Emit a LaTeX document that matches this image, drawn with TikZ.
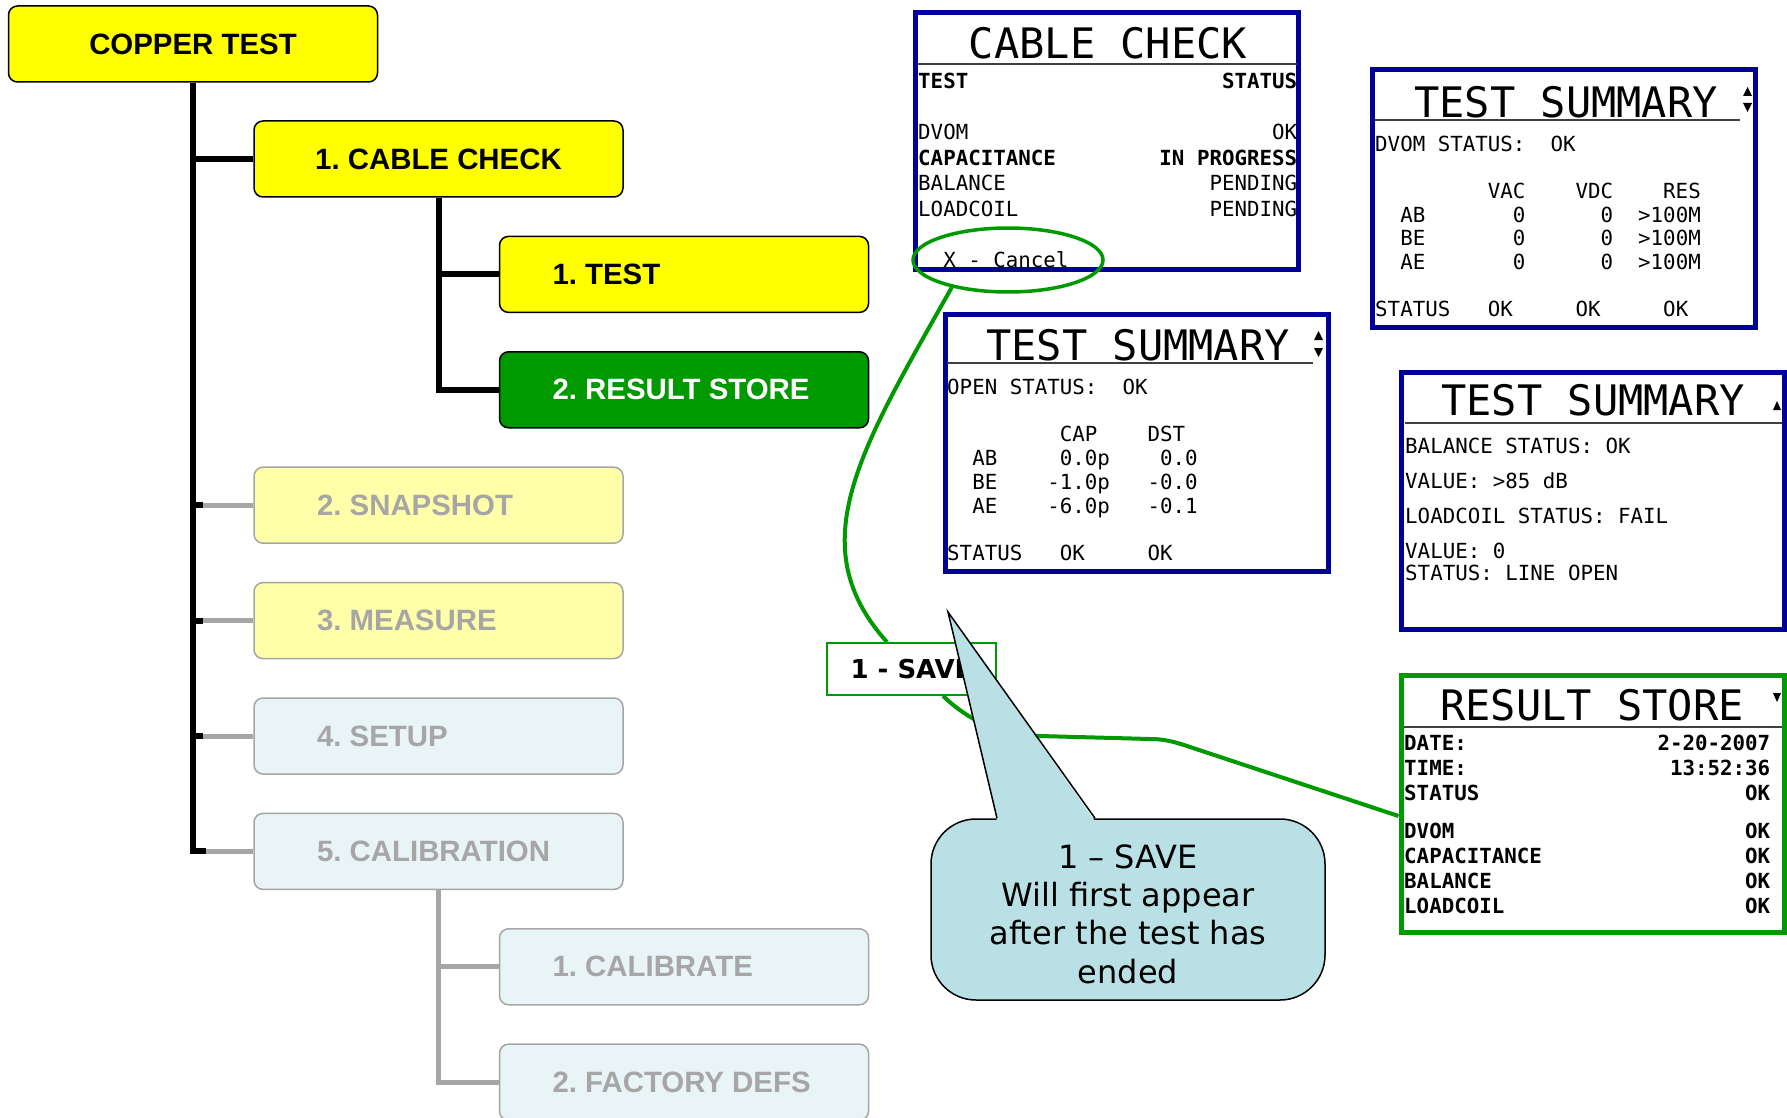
\documentclass[tikz,border=0pt]{standalone}
\usepackage{fontspec}
\setmainfont{Liberation Sans}
\setmonofont{DejaVu Sans Mono}
\newfontfamily\notefont{DejaVu Sans}
\usetikzlibrary{shapes.geometric,calc}

\definecolor{menuyel}{RGB}{255,255,0}
\definecolor{okgreen}{RGB}{0,153,0}
\definecolor{dimyel}{RGB}{255,255,170}
\definecolor{dimblue}{RGB}{232,244,246}
\definecolor{dimgray}{RGB}{166,166,166}
\definecolor{lcdblue}{RGB}{0,0,153}
\definecolor{bubble}{RGB}{185,224,228}

\tikzset{
  plainspace/.style={execute at begin node={\frenchspacing\spaceskip=0pt\xspaceskip=0pt}},
  menu/.style={rectangle, rounded corners=9pt, minimum width=369pt, minimum height=76pt,
    line width=1.5pt, font=\fontsize{29.4}{34}\selectfont\bfseries, plainspace},
  menuon/.style={menu, draw=black, fill=menuyel},
  menusel/.style={menu, draw=black, fill=okgreen, text=white},
  menudimy/.style={menu, draw=dimgray, fill=dimyel, text=dimgray},
  menudimb/.style={menu, draw=dimgray, fill=dimblue, text=dimgray},
  lft/.style={text width=#1, align=left},
  screen/.style={rectangle, draw=#1, line width=5pt, fill=white, minimum width=383pt, minimum height=257pt},
  lcdhead/.style={font=\ttfamily\fontsize{42}{42}\selectfont, inner sep=0pt, anchor=base},
  lcdtext/.style={font=\ttfamily\fontsize{20.8}{#1}\selectfont, inner sep=0pt, align=left,
    anchor=base west, plainspace},
  lcdbold/.style={lcdtext=#1, font=\ttfamily\bfseries\fontsize{20.8}{#1}\selectfont},
  lcdrule/.style={line width=1.8pt, black!75},
  wire/.style={okgreen, line width=4pt}
}

\begin{document}
\begin{tikzpicture}[x=1pt, y=-1pt]
\path[use as bounding box, fill=white] (0,0) rectangle (1787,1118);

% menu tree
\node[menuon, align=center] (copper) at (193,44) {COPPER TEST};
\node[menuon, align=center] (cable) at (438.5,159) {1. CABLE CHECK};
\node[menuon, lft=263pt] (test) at (684,274.4) {1. TEST};
\node[menusel, lft=263pt] (result) at (684,389.8) {2. RESULT STORE};
\node[menudimy, lft=243pt] (snap) at (438.5,505.2) {2. SNAPSHOT};
\node[menudimy, lft=243pt] (meas) at (438.5,620.6) {3. MEASURE};
\node[menudimb, lft=243pt] (setup) at (438.5,736) {4. SETUP};
\node[menudimb, lft=243pt] (calib) at (438.5,851.4) {5. CALIBRATION};
\node[menudimb, lft=263pt] (calibrate) at (684,966.8) {1. CALIBRATE};
\node[menudimb, lft=263pt] (factory) at (684,1082.2) {2. FACTORY DEFS};

\begin{scope}[line width=5pt, dimgray]
\foreach \n in {snap,meas,setup,calib}
  \draw (\n.west) -- (\n.west -| copper.south);
\draw (calib.south) |- (factory.west);
\draw (calibrate.west) -- (calibrate.west -| calib.south);
\end{scope}

\begin{scope}[line width=6pt]
\draw (copper.south) |- ($(calib.west -| copper.south)+(13,0)$);
\draw (cable.west) -- (cable.west -| copper.south);
\draw (cable.south) |- (result.west);
\draw (test.west) -- (test.west -| cable.south);
\foreach \n in {snap,meas,setup}
  \draw (\n.west -| copper.south) -- ++(10,0);
\end{scope}

% screens
\node[screen=lcdblue] (scrCable) at (1107,141) {};
\node[screen=lcdblue] (scrDvom) at (1564,198.5) {};
\node[screen=lcdblue] (scrOpen) at (1136.5,442.5) {};
\node[screen=lcdblue] (scrBal) at (1592.75,501) {};
\node[screen=okgreen] (scrStore) at (1592.5,803.5) {};

\node[lcdhead] (hCable) at (1108,59) {CABLE CHECK};
\node[lcdhead] (hDvom) at (1566,118) {TEST SUMMARY};
\node[lcdhead] (hOpen) at (1138,360) {TEST SUMMARY};
\node[lcdhead] (hBal) at (1593,415) {TEST SUMMARY};
\node[lcdhead] (hStore) at (1592,720) {RESULT STORE};

\draw[lcdrule] (918,64) -- (1297,64);
\draw[lcdrule] (1375,120) -- (1740,120);
\draw[lcdrule] (947,363) -- (1313,363);
\draw[lcdrule] (1405,423) -- (1782,423);
\draw[lcdrule] (1404,727) -- (1782,727);

\fill (1747.5,87) -- (1743,96) -- (1752,96) -- cycle;
\fill (1743,103) -- (1752,103) -- (1747.5,112) -- cycle;
\fill (1318.5,331) -- (1314,340) -- (1323,340) -- cycle;
\fill (1314,348) -- (1323,348) -- (1318.5,357) -- cycle;
\fill (1777,401) -- (1773,410) -- (1781,410) -- cycle;
\fill (1773,693) -- (1781,693) -- (1777,702) -- cycle;

\node[lcdtext=25.5pt, text width=379pt] (bCable) at (918,89) {%
\textbf{TEST}\hfill\textbf{STATUS}\\[25.5pt]
DVOM\hfill OK\\
\textbf{CAPACITANCE}\hfill\textbf{IN PROGRESS}\\
BALANCE\hfill PENDING\\
LOADCOIL\hfill PENDING\\[25.5pt]
~~X - Cancel};

\node[lcdtext=23.5pt, text width=365pt] (bDvom) at (1375,152) {%
DVOM STATUS:~~OK\\[23.5pt]
~~~~~~~~~VAC~~~~VDC~~~~RES\\
~~AB~~~~~~~0~~~~~~0~~>100M\\
~~BE~~~~~~~0~~~~~~0~~>100M\\
~~AE~~~~~~~0~~~~~~0~~>100M\\[23.5pt]
STATUS~~~OK~~~~~OK~~~~~OK};

\node[lcdtext=23.8pt, text width=365pt] (bOpen) at (947,394) {%
OPEN STATUS:~~OK\\[23.8pt]
~~~~~~~~~CAP~~~~DST\\
~~AB~~~~~0.0p~~~~0.0\\
~~BE~~~~-1.0p~~~-0.0\\
~~AE~~~~-6.0p~~~-0.1\\[23.8pt]
STATUS~~~OK~~~~~OK};

\node[lcdtext=22pt, text width=370pt] (bBal) at (1405,453) {%
BALANCE STATUS: OK\\[13pt]
VALUE: >85 dB\\[13pt]
LOADCOIL STATUS: FAIL\\[13pt]
VALUE: 0\\
STATUS: LINE OPEN};

\node[lcdbold=25pt, text width=366pt] (bStore) at (1404,750) {%
DATE:\hfill 2-20-2007\\
TIME:\hfill 13:52:36\\
STATUS\hfill OK\\[13pt]
DVOM\hfill OK\\
CAPACITANCE\hfill OK\\
BALANCE\hfill OK\\
LOADCOIL\hfill OK};

% save path
\node[ellipse, draw=okgreen, line width=3.5pt, minimum width=190pt, minimum height=64pt] (cancel) at (1008,260) {};
\node[draw=okgreen, line width=1.8pt, fill=white, minimum width=169pt, minimum height=52pt,
  font=\notefont\fontsize{26}{30}\selectfont\bfseries] (save) at (911.5,669) {1 - SAVE};

\draw[wire] (cancel.206) .. controls (860,450) and (800,545) .. ([xshift=-24.5pt]save.north);
\draw[wire] ([xshift=31.5pt]save.south) .. controls (968,720) and (1000,736) .. (1040,736)
  -- (1150,739) .. controls (1165,739) and (1175,742) .. (1190,747) -- ([yshift=-12.5pt]scrStore.west);

% callout
\node[rectangle, rounded corners=45pt, draw=black, line width=1.5pt, fill=bubble,
  minimum width=394pt, minimum height=181pt] (note) at (1128,909.5) {};
\coordinate (notetip) at (948,612);
\fill[bubble] ([xshift=-131pt,yshift=-3pt]note.north) -- (notetip) -- ([xshift=-33pt,yshift=-3pt]note.north) -- cycle;
\draw[line width=1.5pt] ([xshift=-131pt]note.north) -- (notetip) -- ([xshift=-33pt]note.north);
\node[align=center, font=\notefont\fontsize{32}{38.4}\selectfont] (noteText) at (1128,914)
  {1 – SAVE\\Will first appear\\after the test has\\ended};

\end{tikzpicture}
\end{document}
